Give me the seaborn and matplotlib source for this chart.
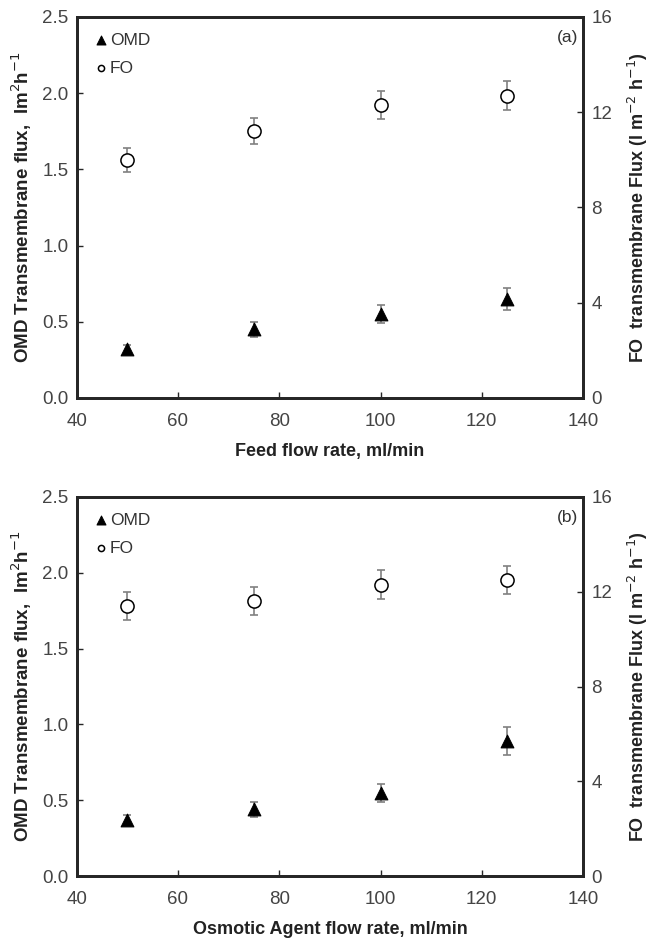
import numpy as np
import pandas as pd
import seaborn as sns
import matplotlib.pyplot as plt

# flow rates (ml/min)
flow = [50, 75, 100, 125]

# panel (a): feed flow rate
omd_a = [0.32, 0.45, 0.55, 0.65]
omd_a_err = [0.03, 0.05, 0.06, 0.07]
fo_a = [10.0, 11.2, 12.3, 12.7]
fo_a_err = [0.5, 0.55, 0.6, 0.6]

# panel (b): osmotic agent flow rate
omd_b = [0.37, 0.44, 0.55, 0.89]
omd_b_err = [0.03, 0.05, 0.06, 0.09]
fo_b = [11.4, 11.6, 12.3, 12.5]
fo_b_err = [0.58, 0.58, 0.6, 0.6]

xlabels = ["Feed flow rate, ml/min", "Osmotic Agent flow rate, ml/min"]
tags = ["(a)", "(b)"]

sns.set_style("ticks")
plt.rcParams['font.family'] = ['Liberation Sans', 'DejaVu Sans']

fig = plt.figure(figsize=(6.5, 9.43), dpi=100)
boxes = [[0.118, 0.578, 0.779, 0.404], [0.118, 0.071, 0.779, 0.402]]
panels = [(omd_a, omd_a_err, fo_a, fo_a_err), (omd_b, omd_b_err, fo_b, fo_b_err)]

tick_col = "#444444"
err_col = "#808080"

for box, (omd, omd_err, fo, fo_err), xl, tag in zip(boxes, panels, xlabels, tags):
    ax = fig.add_axes(box)
    ax2 = ax.twinx()
    df = pd.DataFrame({"flow": flow, "omd": omd, "fo": fo})

    ax.errorbar(flow, omd, yerr=omd_err, fmt="none", ecolor=err_col,
                capsize=3, elinewidth=1.2, capthick=1.2, zorder=1)
    sns.scatterplot(data=df, x="flow", y="omd", marker="^", s=85, color="black",
                    edgecolor="black", ax=ax, zorder=3, label="OMD")

    ax2.errorbar(flow, fo, yerr=fo_err, fmt="none", ecolor=err_col,
                 capsize=3, elinewidth=1.2, capthick=1.2, zorder=1)
    sns.scatterplot(data=df, x="flow", y="fo", marker="o", s=90, facecolor="white",
                    edgecolor="black", linewidth=1.1, ax=ax2, zorder=3)

    ax.set_xlim(40, 140)
    ax.set_ylim(0, 2.5)
    ax2.set_ylim(0, 16)
    ax.set_xticks([40, 60, 80, 100, 120, 140])
    ax.set_yticks([0.0, 0.5, 1.0, 1.5, 2.0, 2.5])
    ax.set_yticklabels(["0.0", "0.5", "1.0", "1.5", "2.0", "2.5"])
    ax2.set_yticks([0, 4, 8, 12, 16])

    for a in (ax, ax2):
        a.tick_params(direction="in", length=4, width=1, labelsize=13.5,
                      labelcolor=tick_col, pad=6)
        for s in a.spines.values():
            s.set_linewidth(2)
            s.set_visible(True)
    ax.tick_params(axis="x", pad=11)

    ax.set_xlabel(xl, fontsize=13, fontweight="bold", color="#222222", labelpad=9)
    ax.set_ylabel("OMD Transmembrane flux,  lm$^{2}$h$^{-1}$", fontsize=13.5,
                  fontweight="bold", color="#222222", labelpad=6)
    ax2.set_ylabel("FO  transmembrane Flux (l m$^{-2}$ h$^{-1}$)", fontsize=13,
                   fontweight="bold", color="#222222", labelpad=10)

    # legend built by hand to show the open circle too
    ax.scatter([], [], marker="o", s=40, facecolor="white", edgecolor="black",
               linewidth=1.1, label="FO")
    ax.legend(loc="upper left", frameon=False, handletextpad=0.0, fontsize=12.5,
              markerscale=0.7, labelspacing=0.75, borderaxespad=0.5,
              labelcolor="#333333", handlelength=1.0)
    ax.text(0.99, 0.965, tag, transform=ax.transAxes, ha="right", va="top",
            fontsize=12.5, color="#333333")

fig.savefig("out.png", dpi=100)
